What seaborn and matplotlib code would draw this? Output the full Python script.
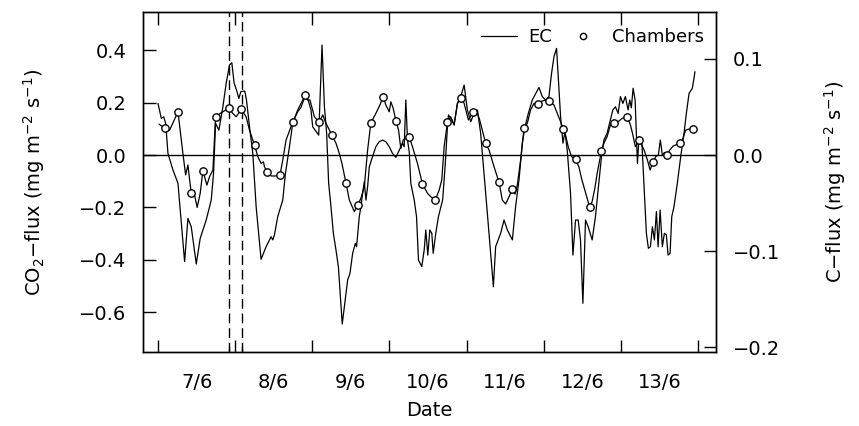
import numpy as np
import pandas as pd
import matplotlib
matplotlib.use("Agg")
import matplotlib.pyplot as plt
from matplotlib.lines import Line2D
import seaborn as sns

# eddy covariance flux, day of June vs mg CO2 m-2 s-1
ec_day = [7.000, 7.043, 7.074, 7.100, 7.129, 7.194, 7.259, 7.345, 7.388, 7.431, 7.496, 7.547, 7.625, 7.690,
          7.720, 7.746, 7.789, 7.841, 7.884, 7.927, 7.957, 7.987, 8.018, 8.048, 8.074, 8.125, 8.147, 8.186,
          8.229, 8.272, 8.336, 8.401, 8.466, 8.488, 8.509, 8.552, 8.617, 8.652, 8.704, 8.746, 8.811, 8.876,
          8.911, 8.940, 8.983, 9.005, 9.083, 9.126, 9.157, 9.186, 9.212, 9.242, 9.273, 9.307, 9.338, 9.388,
          9.436, 9.458, 9.488, 9.523, 9.558, 9.574, 9.609, 9.630, 9.652, 9.674, 9.695, 9.717, 9.739, 9.781,
          9.824, 9.868, 9.911, 9.953, 9.997, 10.040, 10.083, 10.127, 10.169, 10.191, 10.212, 10.234, 10.256,
          10.277, 10.321, 10.351, 10.376, 10.419, 10.450, 10.471, 10.497, 10.523, 10.549, 10.567, 10.600,
          10.635, 10.690, 10.722, 10.752, 10.765, 10.807, 10.838, 10.881, 10.924, 10.968, 11.010, 11.053,
          11.097, 11.140, 11.182, 11.226, 11.269, 11.312, 11.347, 11.376, 11.441, 11.485, 11.528, 11.593,
          11.635, 11.679, 11.722, 11.757, 11.800, 11.851, 11.938, 11.981, 12.023, 12.067, 12.101, 12.132,
          12.166, 12.197, 12.218, 12.249, 12.275, 12.304, 12.347, 12.378, 12.412, 12.446, 12.476, 12.507,
          12.541, 12.576, 12.627, 12.670, 12.714, 12.748, 12.779, 12.821, 12.864, 12.895, 12.929, 12.964,
          12.994, 13.025, 13.058, 13.093, 13.115, 13.135, 13.158, 13.184, 13.214, 13.236, 13.270, 13.300,
          13.330, 13.356, 13.382, 13.408, 13.434, 13.460, 13.482, 13.508, 13.537, 13.563, 13.589, 13.611,
          13.637, 13.659, 13.688, 13.731, 13.775, 13.818, 13.848, 13.883, 13.926, 13.960]
ec_flux = [0.197, 0.140, 0.146, 0.120, 0.006, -0.057, -0.108, -0.407, -0.242, -0.274, -0.416, -0.318, -0.248, -0.172,
           -0.070, 0.121, 0.095, 0.184, 0.274, 0.344, 0.352, 0.274, 0.248, 0.216, 0.242, 0.244, 0.210, 0.108,
           0.006, -0.197, -0.398, -0.350, -0.312, -0.324, -0.305, -0.235, -0.172, -0.070, 0.032, 0.121, 0.172, 0.210,
           0.233, 0.216, 0.172, 0.108, 0.076, 0.420, 0.184, 0.083, -0.108, -0.197, -0.299, -0.363, -0.426, -0.645,
           -0.528, -0.477, -0.452, -0.375, -0.337, -0.350, -0.235, -0.197, -0.146, -0.102, -0.172, -0.121, -0.045, -0.006,
           0.032, 0.051, 0.057, 0.051, 0.032, 0.006, -0.009, 0.019, 0.045, 0.032, 0.210, 0.057, 0.013,
           -0.108, -0.172, -0.235, -0.401, -0.426, -0.363, -0.286, -0.382, -0.286, -0.299, -0.375, -0.299,
           -0.235, -0.170, -0.040, 0.110, 0.153, 0.134, 0.115, 0.197, 0.223, 0.267, 0.172, 0.127,
           0.159, 0.172, 0.083, -0.070, -0.223, -0.375, -0.503, -0.350, -0.299, -0.248, -0.286, -0.324,
           -0.197, -0.095, 0.045, 0.108, 0.159, 0.210, 0.258, 0.223, 0.210, 0.223, 0.312, 0.375,
           0.407, 0.248, 0.146, 0.045, 0.089, 0.019, -0.146, -0.382, -0.248, -0.248, -0.324, -0.566,
           -0.248, -0.274, -0.324, -0.235, -0.108, -0.006, 0.057, 0.083, 0.134, 0.172, 0.184, 0.159,
           0.223, 0.197, 0.223, 0.172, 0.210, 0.180, 0.255, 0.210, -0.032, 0.070, 0.057, -0.121,
           -0.299, -0.356, -0.350, -0.274, -0.324, -0.216, -0.350, -0.210, -0.350, -0.299, -0.305, -0.382,
           -0.375, -0.235, -0.197, -0.108, -0.006, 0.083, 0.159, 0.235, 0.255, 0.318]

# chamber based curve
ch_line_day = [7.013, 7.087, 7.151, 7.259, 7.323, 7.358, 7.388, 7.410, 7.431, 7.462, 7.508, 7.547, 7.582, 7.634,
               7.668, 7.712, 7.746, 7.806, 7.914, 7.970, 8.013, 8.080, 8.142, 8.186, 8.251, 8.294, 8.336, 8.367,
               8.380, 8.414, 8.466, 8.523, 8.582, 8.617, 8.660, 8.746, 8.811, 8.854, 8.911, 8.940, 8.970, 9.027,
               9.092, 9.135, 9.177, 9.255, 9.307, 9.350, 9.384, 9.436, 9.480, 9.545, 9.590, 9.630, 9.674, 9.717,
               9.759, 9.824, 9.876, 9.920, 9.953, 9.997, 10.018, 10.049, 10.083, 10.118, 10.147, 10.178, 10.256,
               10.298, 10.363, 10.428, 10.493, 10.536, 10.593, 10.644, 10.678, 10.709, 10.752, 10.794, 10.838,
               10.881, 10.933, 10.968, 11.023, 11.088, 11.127, 11.169, 11.247, 11.291, 11.356, 11.420, 11.463,
               11.506, 11.550, 11.593, 11.628, 11.657, 11.700, 11.744, 11.787, 11.829, 11.873, 11.920, 11.970,
               12.023, 12.071, 12.132, 12.175, 12.218, 12.252, 12.282, 12.317, 12.360, 12.412, 12.455, 12.489,
               12.520, 12.593, 12.627, 12.662, 12.692, 12.748, 12.779, 12.821, 12.864, 12.908, 12.964, 13.016,
               13.080, 13.123, 13.150, 13.187, 13.240, 13.300, 13.343, 13.378, 13.417, 13.451, 13.485, 13.511,
               13.537, 13.563, 13.594, 13.633, 13.675, 13.762, 13.796, 13.839, 13.883, 13.935]
ch_line_flux = [0.118, 0.102, 0.095, 0.165, 0.006, -0.076, -0.038, -0.095, -0.144, -0.136, -0.200, -0.146, -0.060, -0.115,
                -0.083, -0.057, 0.144, 0.159, 0.178, 0.159, 0.146, 0.174, 0.146, 0.095, 0.038, -0.006, -0.032, -0.026,
                -0.045, -0.064, -0.080, -0.080, -0.076, -0.019, 0.057, 0.126, 0.165, 0.182, 0.229, 0.210, 0.210, 0.146,
                0.125, 0.153, 0.121, 0.076, 0.045, 0.006, -0.032, -0.106, -0.172, -0.216, -0.190, -0.165, -0.121, 0.019,
                0.123, 0.159, 0.191, 0.223, 0.191, 0.165, 0.203, 0.178, 0.131, 0.095, 0.025, 0.057, 0.070,
                0.032, -0.032, -0.111, -0.146, -0.159, -0.172, -0.134, -0.095, 0.032, 0.127, 0.146, 0.115,
                0.197, 0.218, 0.197, 0.134, 0.165, 0.172, 0.134, 0.045, 0.019, -0.045, -0.104, -0.172,
                -0.187, -0.159, -0.130, -0.149, -0.115, -0.019, 0.102, 0.121, 0.172, 0.197, 0.193, 0.205,
                0.210, 0.206, 0.191, 0.159, 0.127, 0.100, 0.076, 0.032, -0.006, -0.016, -0.045, -0.089,
                -0.121, -0.197, -0.178, -0.127, -0.070, 0.016, 0.045, 0.070, 0.115, 0.121, 0.127, 0.140,
                0.146, 0.115, 0.083, 0.032, 0.057, 0.019, -0.019, -0.057, -0.026, -0.006, 0.000, 0.057,
                0.000, 0.009, 0.000, 0.019, 0.034, 0.045, 0.057, 0.095, 0.099, 0.099]

# chamber measurements
ch_day = [7.087, 7.259, 7.431, 7.582, 7.746, 7.914, 8.080, 8.251, 8.414, 8.582, 8.746, 8.911, 9.092, 9.255,
          9.436, 9.590, 9.759, 9.920, 10.083, 10.256, 10.428, 10.593, 10.752, 10.933, 11.088, 11.247, 11.420,
          11.593, 11.744, 11.920, 12.071, 12.252, 12.412, 12.593, 12.748, 12.908, 13.080, 13.240, 13.417,
          13.594, 13.762, 13.935]
ch_flux = [0.102, 0.165, -0.144, -0.060, 0.144, 0.178, 0.174, 0.038, -0.064, -0.076, 0.126, 0.229, 0.125, 0.076,
           -0.106, -0.190, 0.123, 0.223, 0.131, 0.070, -0.111, -0.172, 0.127, 0.218, 0.165, 0.045, -0.104,
           -0.130, 0.102, 0.193, 0.206, 0.100, -0.016, -0.197, 0.016, 0.121, 0.146, 0.057, -0.026,
           0.000, 0.045, 0.099]

mark_days = [7.918, 8.087]
day_ticks = [7, 8, 9, 10, 11, 12, 13, 14]
label_days = [7.5, 8.5, 9.5, 10.5, 11.5, 12.5, 13.5]
day_labels = ["7/6", "8/6", "9/6", "10/6", "11/6", "12/6", "13/6"]

co2_lim = (-0.753, 0.547)
c_ticks = [-0.2, -0.1, 0.0, 0.1]
c_per_co2 = 12.0 / 44.0

ec_df = pd.DataFrame({"day": ec_day, "flux": ec_flux})
line_df = pd.DataFrame({"day": ch_line_day, "flux": ch_line_flux})
pts_df = pd.DataFrame({"day": ch_day, "flux": ch_flux})

sns.set_style("ticks")
plt.rcParams["font.family"] = ["DejaVu Sans"]
plt.rcParams["font.size"] = 14
plt.rcParams["axes.linewidth"] = 1.0
for k in ["text.color", "axes.labelcolor", "xtick.color", "ytick.color", "axes.edgecolor"]:
    plt.rcParams[k] = "black"
plt.rcParams["xtick.direction"] = "in"
plt.rcParams["ytick.direction"] = "in"

fig = plt.figure(figsize=(8.59, 4.26), dpi=100)
ax = fig.add_axes([0.1665, 0.173, 0.667, 0.7995])

ax.axhline(0, color="black", lw=1.0, zorder=1)
for d in mark_days:
    ax.axvline(d, color="black", lw=1.0, ls=(0, (7, 3.5)), zorder=1)
    # short solid mark at the bottom of each dashed line
    ax.plot([d, d], [0, 0.016], color="black", lw=1.0, transform=ax.get_xaxis_transform())

sns.lineplot(data=ec_df, x="day", y="flux", ax=ax, color="black", lw=0.9,
             estimator=None, sort=False, zorder=3)
sns.lineplot(data=line_df, x="day", y="flux", ax=ax, color="black", lw=0.9,
             estimator=None, sort=False, zorder=3)
sns.scatterplot(data=pts_df, x="day", y="flux", ax=ax, marker="o", s=28,
                facecolor="white", edgecolor="black", linewidth=1.0, zorder=4)

ax.set_xlim(6.806, 14.232)
ax.set_ylim(*co2_lim)
ax.set_xticks(day_ticks)
ax.set_xticklabels([])
ax.set_xticks(label_days, day_labels, minor=True)
ax.set_yticks([-0.6, -0.4, -0.2, 0.0, 0.2, 0.4])
ax.tick_params(axis="x", which="major", direction="in", length=9, width=1, top=True, bottom=True)
ax.tick_params(axis="x", which="minor", length=0, pad=15, labelsize=14, top=False)
ax.tick_params(axis="y", which="major", direction="in", length=9, width=1, pad=12, labelsize=14)

ax.set_xlabel("Date", fontsize=14)
ax.xaxis.set_label_coords(0.5, -0.143)
ax.set_ylabel("CO$_2$\u2212flux (mg m$^{-2}$ s$^{-1}$)", fontsize=14)
ax.yaxis.set_label_coords(-0.168, 0.5)

ax2 = ax.twinx()
ax2.set_ylim(co2_lim[0] * c_per_co2, co2_lim[1] * c_per_co2)
ax2.set_yticks(c_ticks)
ax2.tick_params(axis="y", which="major", direction="in", length=9, width=1, pad=12, labelsize=14)
ax2.set_ylabel("C\u2212flux (mg m$^{-2}$ s$^{-1}$)", fontsize=14)
ax2.yaxis.set_label_coords(1.185, 0.5)

handles = [Line2D([], [], color="black", lw=0.9),
           Line2D([], [], ls="none", marker="o", ms=4.5, mfc="white", mec="black", mew=1.0)]
ax.legend(handles, ["EC", "Chambers"], loc="upper right", ncol=2, frameon=False,
          fontsize=13, handlelength=2.0, columnspacing=0.75, handletextpad=0.6,
          bbox_to_anchor=(1.008, 1.0))

for a in (ax, ax2):
    for s in a.spines.values():
        s.set_visible(True)
        s.set_color("black")

fig.savefig("out.png", dpi=100)
